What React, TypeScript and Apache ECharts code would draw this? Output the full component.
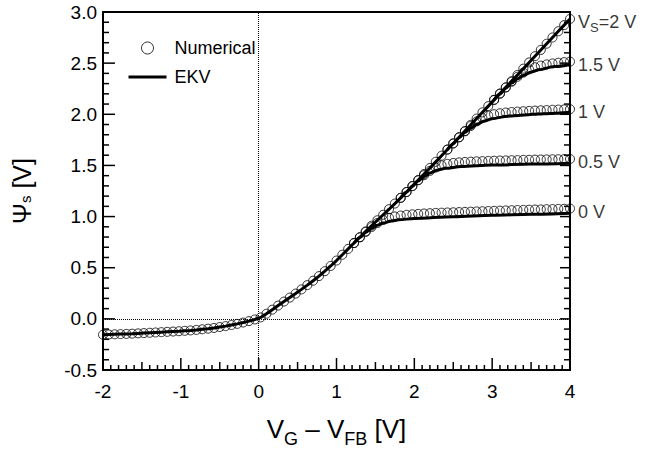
import React, { useEffect, useRef } from 'react';
import * as echarts from 'echarts';

const FONT = "'Liberation Sans', Arial, Helvetica, sans-serif";

// sample positions of the numerical solution (V)
const numX = [
  -2, -1.925, -1.85, -1.775, -1.7, -1.625, -1.55, -1.475, -1.4, -1.325,
  -1.25, -1.175, -1.1, -1.025, -0.95, -0.875, -0.8, -0.725, -0.65, -0.575,
  -0.5, -0.425, -0.35, -0.275, -0.2, -0.125, -0.05, 0.025, 0.1, 0.175,
  0.25, 0.325, 0.4, 0.475, 0.55, 0.625, 0.7, 0.775, 0.85, 0.925,
  1.0, 1.075, 1.15, 1.225, 1.3, 1.375, 1.45, 1.525, 1.6, 1.675,
  1.75, 1.825, 1.9, 1.975, 2.05, 2.125, 2.2, 2.275, 2.35, 2.425,
  2.5, 2.575, 2.65, 2.725, 2.8, 2.875, 2.95, 3.025, 3.1, 3.175,
  3.25, 3.325, 3.4, 3.475, 3.55, 3.625, 3.7, 3.775, 3.85, 3.925, 4.0,
];

// Numerical Psi_s, V_S = 2 V (full range)
const numVs2 = [
  -0.155, -0.153, -0.151, -0.149, -0.147, -0.145, -0.142, -0.139, -0.136, -0.133,
  -0.13, -0.127, -0.124, -0.121, -0.117, -0.113, -0.108, -0.102, -0.096, -0.089,
  -0.08, -0.071, -0.06, -0.049, -0.036, -0.022, -0.006, 0.014, 0.05, 0.09,
  0.13, 0.169, 0.208, 0.247, 0.288, 0.33, 0.373, 0.418, 0.466, 0.517,
  0.57, 0.627, 0.684, 0.741, 0.798, 0.855, 0.91, 0.964, 1.018, 1.072,
  1.127, 1.183, 1.24, 1.298, 1.357, 1.416, 1.475, 1.535, 1.595, 1.655,
  1.715, 1.775, 1.836, 1.897, 1.958, 2.019, 2.08, 2.141, 2.202, 2.263,
  2.324, 2.385, 2.446, 2.507, 2.568, 2.629, 2.69, 2.751, 2.812, 2.872, 2.932,
];
// branches (they coincide with the V_S = 2 V curve below these x ranges)
const numVs0X = numX.slice(43);
const numVs0 = [
  0.741, 0.797, 0.85, 0.897, 0.937, 0.967, 0.988, 1.001, 1.01, 1.017,
  1.022, 1.026, 1.03, 1.033, 1.036, 1.038, 1.04, 1.042, 1.044, 1.046,
  1.048, 1.05, 1.052, 1.054, 1.056, 1.058, 1.06, 1.062, 1.064, 1.065,
  1.067, 1.069, 1.07, 1.072, 1.073, 1.075, 1.076, 1.078,
];
const numVs05X = numX.slice(51);
const numVs05 = [
  1.183, 1.24, 1.298, 1.355, 1.405, 1.447, 1.479, 1.501, 1.515, 1.524,
  1.53, 1.534, 1.537, 1.54, 1.542, 1.544, 1.546, 1.548, 1.549, 1.551,
  1.552, 1.554, 1.555, 1.557, 1.558, 1.559, 1.56, 1.561, 1.562, 1.563,
];
const numVs1X = numX.slice(59);
const numVs1 = [
  1.655, 1.715, 1.775, 1.833, 1.885, 1.93, 1.964, 1.987, 2.001, 2.01,
  2.017, 2.022, 2.026, 2.03, 2.033, 2.036, 2.039, 2.041, 2.044, 2.046,
  2.048, 2.05,
];
const numVs15X = numX.slice(67);
const numVs15 = [
  2.141, 2.202, 2.262, 2.318, 2.367, 2.407, 2.438, 2.46, 2.476, 2.488,
  2.497, 2.504, 2.51, 2.515,
];

// EKV model curves (the V_S = 2 V model curve follows the numerical one)
const ekvMainX = numX;
const ekvMain = numVs2;
const ekv0X = [1.225, 1.3, 1.375, 1.45, 1.525, 1.6, 1.7, 1.8, 2.0, 2.5, 3.0, 3.5, 4.0];
const ekv0 = [0.741, 0.795, 0.845, 0.885, 0.915, 0.937, 0.956, 0.968, 0.982, 0.999, 1.012, 1.023, 1.033];
const ekv05X = [1.825, 1.9, 1.975, 2.05, 2.125, 2.2, 2.3, 2.4, 2.6, 3.0, 3.5, 4.0];
const ekv05 = [1.183, 1.24, 1.296, 1.348, 1.392, 1.426, 1.455, 1.472, 1.489, 1.503, 1.513, 1.522];
const ekv1X = [2.425, 2.5, 2.575, 2.65, 2.725, 2.8, 2.9, 3.0, 3.2, 3.6, 4.0];
const ekv1 = [1.655, 1.713, 1.77, 1.822, 1.866, 1.9, 1.935, 1.957, 1.982, 2.004, 2.02];
const ekv15X = [3.025, 3.1, 3.175, 3.25, 3.325, 3.4, 3.5, 3.6, 3.8, 4.0];
const ekv15 = [2.141, 2.2, 2.255, 2.305, 2.347, 2.38, 2.413, 2.436, 2.466, 2.487];

const curveLabels = ['{v|V}{s|S}{v|=2 V}', '{v|1.5 V}', '{v|1 V}', '{v|0.5 V}', '{v|0 V}'];

const xRange = { min: -2, max: 4 };
const yRange = { min: -0.5, max: 3.0 };
const xMinorStep = 0.1; // minor tick step of the x axis (major every 1, medium every 0.5)
const yMinorStep = 0.1; // minor tick step of the y axes (major every 0.5)

export default function App() {
  const ref = useRef<HTMLDivElement>(null);

  useEffect(() => {
    document.body.style.margin = '0';
    const chart = echarts.init(ref.current!, null, { renderer: 'svg' });

    const labelRich = {
      v: { fontSize: 18, fontFamily: FONT, color: '#000' },
      s: { fontSize: 13, fontFamily: FONT, color: '#000', padding: [12, 0, 0, 0] },
    };

    const numSeries = (xs: number[], ys: number[], label: string) => ({
      type: 'scatter',
      name: 'Numerical',
      xAxisIndex: 0,
      yAxisIndex: 0,
      symbol: 'circle',
      symbolSize: 9,
      z: 4,
      itemStyle: { color: 'rgba(255,255,255,0)', borderColor: '#000', borderWidth: 1 },
      data: ys.map((y, i) =>
        i === ys.length - 1
          ? {
              value: [xs[i], y],
              label: {
                show: true,
                position: 'right',
                distance: 3,
                offset: [0, 3],
                formatter: label,
                rich: labelRich,
              },
            }
          : [xs[i], y]
      ),
    });

    const ekvSeries = (xs: number[], ys: number[], smooth: number, extra: any = {}) => ({
      type: 'line',
      name: 'EKV',
      xAxisIndex: 0,
      yAxisIndex: 0,
      symbol: 'none',
      showSymbol: false,
      smooth,
      smoothMonotone: 'x',
      z: 3,
      lineStyle: { color: '#000', width: 3 },
      itemStyle: { color: '#000' },
      data: ys.map((y, i) => [xs[i], y]),
      ...extra,
    });

    // tick marks of the frame: [side, value, length]; side 0 = bottom, 1 = left, 2 = right
    const tickData: number[][] = [];
    const nx = Math.round((xRange.max - xRange.min) / xMinorStep);
    for (let i = 0; i <= nx; i++) {
      const v = +(xRange.min + i * xMinorStep).toFixed(3);
      tickData.push([0, v, i % 10 === 0 ? 12 : i % 5 === 0 ? 8 : 5]);
    }
    const ny = Math.round((yRange.max - yRange.min) / yMinorStep);
    for (let i = 0; i <= ny; i++) {
      const v = +(yRange.min + i * yMinorStep).toFixed(3);
      tickData.push([1, v, i % 5 === 0 ? 12 : 6]);
      tickData.push([2, v, i % 5 === 0 ? 10 : 6]);
    }

    const tickSeries = {
      type: 'custom',
      name: 'ticks',
      xAxisIndex: 0,
      yAxisIndex: 0,
      silent: true,
      clip: false,
      z: 5,
      encode: { x: 1, y: 1 },
      data: tickData,
      renderItem: (_params: any, api: any) => {
        const side = api.value(0);
        const v = api.value(1);
        const len = api.value(2);
        const style = { stroke: '#000', lineWidth: 1.5 };
        if (side === 0) {
          const p = api.coord([v, yRange.min]);
          return { type: 'line', shape: { x1: p[0], y1: p[1], x2: p[0], y2: p[1] - len }, style };
        }
        if (side === 1) {
          const p = api.coord([xRange.min, v]);
          return { type: 'line', shape: { x1: p[0], y1: p[1], x2: p[0] + len, y2: p[1] }, style };
        }
        const p = api.coord([xRange.max, v]);
        return { type: 'line', shape: { x1: p[0], y1: p[1], x2: p[0] - len, y2: p[1] }, style };
      },
    };

    const lineOn = () => ({ show: true, onZero: false, lineStyle: { color: '#000', width: 2 } });

    chart.setOption({
      animation: false,
      grid: { left: 103, right: 84, top: 12, bottom: 77 },
      legend: {
        orient: 'vertical',
        left: 121,
        top: 35,
        itemWidth: 38,
        itemHeight: 12,
        itemGap: 11,
        padding: [4, 6, 6, 6],
        backgroundColor: '#fff',
        selectedMode: false,
        textStyle: { fontSize: 18, fontFamily: FONT, color: '#000', padding: [0, 0, 0, 3] },
        data: [
          {
            name: 'Numerical',
            icon: 'circle',
            itemStyle: { color: 'rgba(255,255,255,0)', borderColor: '#000', borderWidth: 1 },
          },
          { name: 'EKV', itemStyle: { opacity: 0 }, lineStyle: { color: '#000', width: 3 } },
        ],
      },
      xAxis: [
        {
          type: 'value',
          position: 'bottom',
          ...xRange,
          interval: 1,
          axisLine: lineOn(),
          axisTick: { show: false },
          axisLabel: { fontSize: 19, fontFamily: FONT, color: '#000', margin: 12 },
          splitLine: { show: false },
          name: '{a|V}{s|G}{a| – V}{s|FB}{a| [V]}',
          nameLocation: 'middle',
          nameGap: 40,
          nameTextStyle: {
            rich: {
              a: { fontSize: 26, fontFamily: FONT, color: '#000' },
              s: { fontSize: 18, fontFamily: FONT, color: '#000', padding: [20, 0, 0, 0] },
            },
          },
        },
        {
          type: 'value',
          position: 'top',
          ...xRange,
          interval: 1,
          axisLine: lineOn(),
          axisTick: { show: false },
          axisLabel: { show: false },
          splitLine: { show: false },
        },
      ],
      yAxis: [
        {
          type: 'value',
          position: 'left',
          ...yRange,
          interval: 0.5,
          axisLine: lineOn(),
          axisTick: { show: false },
          axisLabel: { fontSize: 19, fontFamily: FONT, color: '#000', margin: 6, formatter: (v: number) => v.toFixed(1) },
          splitLine: { show: false },
          name: '{a|Ψ}{s|s}{a| [V]}',
          nameLocation: 'middle',
          nameGap: 69,
          nameTextStyle: {
            rich: {
              a: { fontSize: 25, fontFamily: FONT, color: '#000' },
              s: { fontSize: 15, fontFamily: FONT, color: '#000', padding: [7, 0, 0, 0] },
            },
          },
        },
        {
          type: 'value',
          position: 'right',
          ...yRange,
          interval: 0.5,
          axisLine: lineOn(),
          axisTick: { show: false },
          axisLabel: { show: false },
          splitLine: { show: false },
        },
      ],
      series: [
        ekvSeries(ekvMainX, ekvMain, 0, {
          markLine: {
            silent: true,
            symbol: 'none',
            label: { show: false },
            lineStyle: { color: '#000', width: 1, type: 'dotted' },
            data: [{ xAxis: 0 }, { yAxis: 0 }],
          },
        }),
        ekvSeries(ekv15X, ekv15, 0.3),
        ekvSeries(ekv1X, ekv1, 0.3),
        ekvSeries(ekv05X, ekv05, 0.3),
        ekvSeries(ekv0X, ekv0, 0.3),
        numSeries(numX, numVs2, curveLabels[0]),
        numSeries(numVs15X, numVs15, curveLabels[1]),
        numSeries(numVs1X, numVs1, curveLabels[2]),
        numSeries(numVs05X, numVs05, curveLabels[3]),
        numSeries(numVs0X, numVs0, curveLabels[4]),
        tickSeries,
      ],
    });

    return () => chart.dispose();
  }, []);

  return <div ref={ref} style={{ width: 654, height: 453 }} />;
}
